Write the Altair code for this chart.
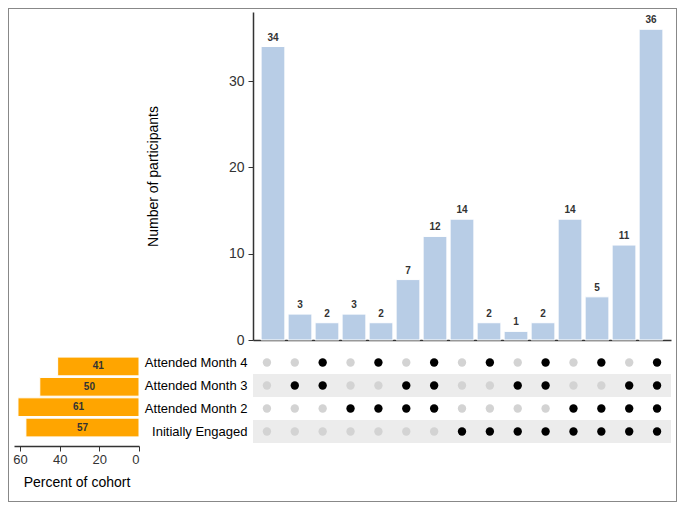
import altair as alt
import pandas as pd

FONT = "Liberation Sans"

sets = ["Attended Month 4", "Attended Month 3", "Attended Month 2", "Initially Engaged"]
set_pct = [41, 50, 61, 57]

counts = [34, 3, 2, 3, 2, 7, 12, 14, 2, 1, 2, 14, 5, 11, 36]
in_month4 = [0, 0, 1, 0, 1, 0, 1, 0, 1, 0, 1, 0, 1, 0, 1]
in_month3 = [0, 1, 1, 0, 0, 1, 1, 0, 0, 1, 1, 0, 0, 1, 1]
in_month2 = [0, 0, 0, 1, 1, 1, 1, 0, 0, 0, 0, 1, 1, 1, 1]
in_initial = [0, 0, 0, 0, 0, 0, 0, 1, 1, 1, 1, 1, 1, 1, 1]
shaded = ["Attended Month 3", "Initially Engaged"]

combo_ids = [f"c{i:02d}" for i in range(1, len(counts) + 1)]
bars_df = pd.DataFrame({"combo": combo_ids, "count": counts})

rows = []
for j, cid in enumerate(combo_ids):
    for s, flags in zip(sets, [in_month4, in_month3, in_month2, in_initial]):
        rows.append({"combo": cid, "set": s, "member": flags[j]})
matrix_df = pd.DataFrame(rows)
pct_df = pd.DataFrame({"set": sets, "pct": set_pct})
band_df = pd.DataFrame({"set": shaded})

W = 418
x_scale = alt.Scale(domain=combo_ids, paddingInner=0.12, paddingOuter=0.3)
row_scale = alt.Scale(domain=sets, paddingInner=0, paddingOuter=0)

bar_base = alt.Chart(bars_df)
bars = bar_base.mark_bar(color="#b8cde6", stroke="white", strokeWidth=1).encode(
    x=alt.X("combo:N", scale=x_scale,
            axis=alt.Axis(labels=False, ticks=False, title=None, domainColor="#333", domainWidth=1.5)),
    y=alt.Y("count:Q", scale=alt.Scale(domain=[0, 38], nice=False),
            axis=alt.Axis(values=[0, 10, 20, 30], title="Number of participants",
                          titleFontWeight="normal", titleFontSize=14, titlePadding=68,
                          labelFontSize=14, labelPadding=4, labelColor="#333", domainColor="#333",
                          domainWidth=1.5, tickColor="#333", grid=False)),
)
bar_text = bar_base.mark_text(baseline="bottom", dy=-4, fontSize=10, fontWeight="bold",
                              color="#333", font=FONT).encode(
    x=alt.X("combo:N", scale=x_scale), y="count:Q", text="count:Q")
frame = bar_base.mark_rect(fill=None, stroke="#888", strokeWidth=1, clip=False).encode(
    x=alt.value(-244.5), x2=alt.value(423.5), y=alt.value(-3.5), y2=alt.value(489.5))
top = alt.layer(bars, bar_text, frame).properties(width=W, height=328)

spacer = alt.Chart(pct_df).mark_text(text="").encode(
    x=alt.X("pct:Q", axis=None), y=alt.Y("set:N", axis=None)
).properties(width=125, height=328)

pct_base = alt.Chart(pct_df)
pct_scale_y = alt.Scale(domain=sets, paddingInner=0.08, paddingOuter=0.3)
pct_scale_x = alt.Scale(domain=[0, 63], reverse=True, nice=False)
pct_bars = pct_base.mark_bar(color="#ffa500", stroke="white", strokeWidth=1).encode(
    y=alt.Y("set:N", scale=pct_scale_y, axis=None),
    x=alt.X("pct:Q", scale=pct_scale_x,
            axis=alt.Axis(values=[0, 20, 40, 60], title="Percent of cohort", titleFontWeight="normal",
                          titleFontSize=14, titlePadding=9, labelFontSize=13, labelColor="#333",
                          domainColor="#333", domainWidth=1.5, tickColor="#333", offset=3, grid=False)),
)
pct_text = pct_base.mark_text(fontSize=10, fontWeight="bold", color="#333", font=FONT).encode(
    y=alt.Y("set:N", scale=pct_scale_y),
    x=alt.X("mid:Q", scale=pct_scale_x),
    text="pct:Q",
).transform_calculate(mid="datum.pct / 2")
pct_chart = alt.layer(pct_bars, pct_text).properties(width=125, height=92)

bands = alt.Chart(band_df).mark_rect(color="#ececec").encode(
    y=alt.Y("set:N", scale=row_scale,
            axis=alt.Axis(title=None, ticks=False, domain=False, labelFontSize=13,
                          labelColor="black", labelPadding=6)),
)
dots = alt.Chart(matrix_df).mark_circle(size=70, opacity=1).encode(
    x=alt.X("combo:N", scale=x_scale, axis=None),
    y=alt.Y("set:N", scale=row_scale),
    color=alt.Color("member:N", scale=alt.Scale(domain=[0, 1], range=["#d3d3d3", "#000000"]),
                    legend=None),
)
matrix = alt.layer(bands, dots).properties(width=W, height=92)

chart = alt.concat(spacer, top, pct_chart, matrix, columns=2, bounds="flush", align="each",
                   spacing={"column": 114, "row": 11}).properties(padding=0).configure_view(
    stroke=None).configure_axis(labelFont=FONT, titleFont=FONT).configure_text(font=FONT)

chart.save("out.html", embed_options={"renderer": "svg", "actions": False})
